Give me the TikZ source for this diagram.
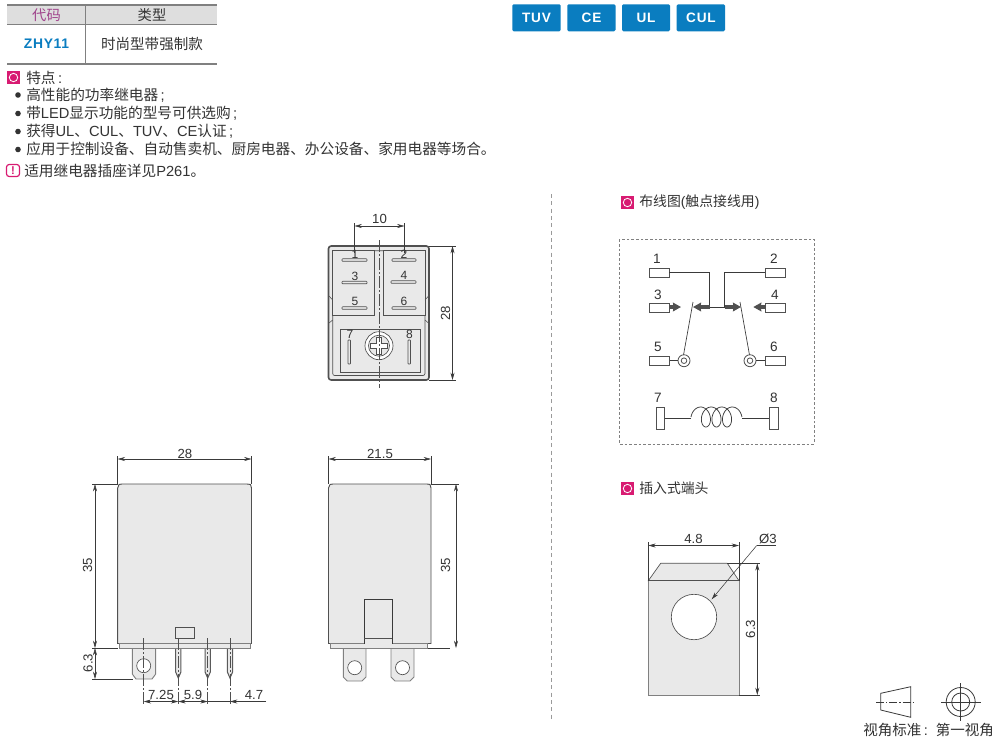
\documentclass[tikz,border=0pt]{standalone}
\usepackage{fontspec}
\setmainfont{Liberation Sans}
\newfontfamily\cjk{Noto Sans CJK SC}
\usetikzlibrary{arrows.meta}
\definecolor{pinkc}{HTML}{D81B72}
\definecolor{bluec}{HTML}{0A7DC0}
\definecolor{bodyc}{HTML}{E9E9E9}
\definecolor{linec}{HTML}{3A3A3A}
\definecolor{txtc}{HTML}{333333}
\definecolor{rulec}{HTML}{808080}
\definecolor{headc}{HTML}{DEDEDE}
\definecolor{darkc}{HTML}{505050}
\definecolor{purpc}{HTML}{A0458C}
\tikzset{
  x=0.75pt,y=-0.75pt,
  txt/.style={inner sep=0pt,anchor=west,text=txtc,font=\fontsize{11}{12}\selectfont},
  dimt/.style={inner sep=0pt,text=txtc,font=\fontsize{9.9}{11}\selectfont},
  lab/.style={inner sep=0pt,text=txtc,font=\fontsize{9}{10}\selectfont},
  wlab/.style={inner sep=0pt,text=txtc,font=\fontsize{10.2}{11}\selectfont},
  dim/.style={line width=0.4pt,draw=linec},
  arr/.style={dim,{Stealth[length=5.5pt,width=3pt]}-{Stealth[length=5.5pt,width=3pt]}},
  tip/.style={dim,-{Stealth[length=5.5pt,width=3pt]}},
  ext/.style={line width=0.35pt,draw=linec},
  center/.style={line width=0.4pt,draw=darkc,dash pattern=on 9pt off 1.5pt on 1.5pt off 1.5pt},
  badge/.style={fill=bluec,rounded corners=1pt,draw=none},
  btxt/.style={inner sep=0pt,text=white,font=\addfontfeatures{LetterSpace=6}\fontsize{10.2}{12}\bfseries\selectfont},
  blade/.style={fill=bodyc,draw=rulec,line width=0.7pt},
  slot/.style={fill=bodyc,draw=darkc,line width=0.5pt,rounded corners=0.5pt},
  term/.style={fill=white,draw=darkc,line width=0.7pt},
  bull/.style={circle,fill=txtc,inner sep=0pt,minimum size=4.2pt},
}
\begin{document}
\begin{tikzpicture}
\useasboundingbox (0,0) rectangle (1000,744);
\fill[white] (0,0) rectangle (1000,744);

% table
\fill[headc] (7,5) rectangle (217,24);
\draw[rulec,line width=1pt] (7,5) -- (217,5);
\draw[rulec,line width=1pt] (7,24.5) -- (217,24.5);
\draw[rulec,line width=1pt] (7,64) -- (217,64);
\draw[rulec,line width=0.8pt] (85.6,4) -- (85.6,64);
\node[inner sep=0pt,text=purpc,font=\fontsize{10.7}{12}\selectfont] (h1) at (46.5,15) {\cjk 代码};
\node[inner sep=0pt,text=txtc,font=\fontsize{10.7}{12}\selectfont] (h2) at (152,15) {\cjk 类型};
\node[inner sep=0pt,text=bluec,font=\addfontfeatures{LetterSpace=5}\fontsize{10.4}{12}\bfseries\selectfont] (c1) at (46.5,44) {ZHY11};
\node[inner sep=0pt,text=txtc,font=\fontsize{10.9}{12}\selectfont] (c2) at (152,44.5) {\cjk 时尚型带强制款};

% feature list
\fill[pinkc] (7,71) rectangle (20,84);
\draw[white,line width=0.6pt] (13.5,77.5) circle (4.2);
\node[txt] (f0) at (26,77.5) {{\cjk 特点}\,:};
\node[bull] (b1) at (18,95) {};
\node[bull] (b2) at (18,113.5) {};
\node[bull] (b3) at (18,131.5) {};
\node[bull] (b4) at (18,149.5) {};
\node[txt] (f1) at (26,95) {{\cjk 高性能的功率继电器}\,;};
\node[txt] (f2) at (26,113) {{\cjk 带}LED{\cjk 显示功能的型号可供选购}\,;};
\node[txt] (f3) at (26,131) {{\cjk 获得}UL{\cjk 、}CUL{\cjk 、}TUV{\cjk 、}CE{\cjk 认证}\,;};
\node[txt] (f4) at (26,149) {\cjk 应用于控制设备、自动售卖机、厨房电器、办公设备、家用电器等场合。};
\draw[pinkc,line width=0.9pt,rounded corners=2pt] (6.5,164.5) rectangle (19.5,176.5);
\node[inner sep=0pt,text=pinkc,font=\fontsize{8.5}{10}\bfseries\selectfont] (ex) at (13,170.5) {!};
\node[txt] (f5) at (24,171) {{\cjk 适用继电器插座详见}P261{\cjk 。}};

% badges
\fill[badge] (512.3,4.3) rectangle (560.7,31.3);
\fill[badge] (567.3,4.3) rectangle (615.5,31.3);
\fill[badge] (622,4.3) rectangle (670,31.3);
\fill[badge] (676.7,4.3) rectangle (725,31.3);
\node[btxt] (tuv) at (536.5,18) {TUV};
\node[btxt] (ce) at (591.5,18) {CE};
\node[btxt] (ul) at (646,18) {UL};
\node[btxt] (cul) at (701,18) {CUL};

% divider
\draw[rulec!80,line width=0.5pt,dash pattern=on 3pt off 2.5pt] (551,194) -- (551,720);

% TOP VIEW
\draw[fill=bodyc,draw=darkc,line width=1.2pt,rounded corners=2pt] (328.5,246) rectangle (429,380);
\draw[fill=bodyc,draw=darkc,line width=0.5pt,rounded corners=1.5pt] (332.7,250.7) rectangle (425,375.5);
\draw[fill=bodyc,draw=darkc,line width=0.5pt] (332.7,250.7) rectangle (374,315);
\draw[fill=bodyc,draw=darkc,line width=0.5pt] (383,250.7) rectangle (425,315);
\draw[darkc,line width=0.4pt] (329,296) -- (332.7,300);
\draw[darkc,line width=0.4pt] (329,323) -- (332.7,320);
\draw[darkc,line width=0.4pt] (428.5,296) -- (425,300);
\draw[darkc,line width=0.4pt] (428.5,323) -- (425,320);
\draw[fill=bodyc,draw=darkc,line width=0.5pt] (340.7,329) rectangle (420,372);
\foreach \xa/\xb/\yy in {342/367/260,392/416/260,342/367/282.5,391/416/282,342/367/308,392/416/308}
  \draw[slot] (\xa,\yy-1.2) rectangle (\xb,\yy+1.2);
\draw[slot] (348,340) rectangle (350.5,364);
\draw[slot] (408,340) rectangle (410.5,364);
\fill[white] (379,345.7) circle (14);
\draw[darkc,line width=0.5pt] (379,345.7) circle (14);
\draw[darkc,line width=0.5pt,fill=bodyc] (379,345.7) circle (10.5);
\draw[darkc,line width=0.6pt,fill=white] (376.5,337.5) -- (381.5,337.5) -- (381.5,343.2) -- (387.2,343.2) -- (387.2,348.2) -- (381.5,348.2) -- (381.5,354) -- (376.5,354) -- (376.5,348.2) -- (370.8,348.2) -- (370.8,343.2) -- (376.5,343.2) -- cycle;
\draw[center] (379,240) -- (379,388);
\foreach \n/\xx/\yy in {1/355/254,2/404/254,3/355/276,4/404/275,5/355/301,6/404/301,7/350/334,8/409.5/334}
  \node[lab] (tv\n) at (\xx,\yy) {\n};
% dims top view
\draw[ext] (354.5,223) -- (354.5,253);
\draw[ext] (404.5,223) -- (404.5,253);
\draw[arr] (354.5,226) -- (404.5,226);
\node[dimt] (d10) at (379.5,219) {10};
\draw[ext] (429,246) -- (456,246);
\draw[ext] (429,380) -- (456,380);
\draw[arr] (452.5,246) -- (452.5,380);
\node[dimt,rotate=90] (d28a) at (445.5,313) {28};

% FRONT VIEW
\draw[blade] (132.3,648) -- (132.3,674) -- (136,679) -- (152,679) -- (155.7,674) -- (155.7,648) -- cycle;
\draw[darkc,line width=0.5pt,fill=white] (143.7,665.7) circle (7);
\foreach \xx in {178.3,207.7,230}
  \draw[fill=bodyc,draw=rulec!70!black,line width=0.8pt] (\xx-2.6,648) -- (\xx-2.6,672) -- (\xx,678) -- (\xx+2.6,672) -- (\xx+2.6,648) -- cycle;
\draw[fill=bodyc,draw=darkc,line width=0.7pt] (117.7,643.5) -- (117.7,488) -- (119,484.5) -- (122,484) -- (247,484) -- (250.5,484.5) -- (251.5,488) -- (251.5,643.5) -- cycle;
\draw[fill=bodyc,draw=rulec,line width=0.7pt] (119.3,643.5) rectangle (250,648);
\draw[fill=bodyc,draw=darkc,line width=0.6pt] (175.7,627.7) rectangle (194,638);
\draw[center] (143.7,638) -- (143.7,705);
\draw[center] (178.3,638) -- (178.3,705);
\draw[center] (207.7,638) -- (207.7,705);
\draw[center] (230,638) -- (230,705);
% front dims
\draw[ext] (117.7,456) -- (117.7,484);
\draw[ext] (251.5,456) -- (251.5,484);
\draw[arr] (117.7,459) -- (251.5,459);
\node[dimt] (d28b) at (185,453.5) {28};
\draw[ext] (92,484) -- (117.7,484);
\draw[ext] (92,648) -- (118,648);
\draw[ext] (92,679) -- (133,679);
\draw[arr] (95,484) -- (95,648);
\draw[arr] (95,648) -- (95,679);
\node[dimt,rotate=90] (d35a) at (87.5,565) {35};
\node[dimt,rotate=90] (d63a) at (88,663) {6.3};
\draw[arr] (143.7,701.5) -- (178.3,701.5);
\draw[arr] (178.3,701.5) -- (207.7,701.5);
\draw[dim] (207.7,701.5) -- (230,701.5);
\draw[tip] (266,701.5) -- (230,701.5);
\node[dimt] (d725) at (161,694.5) {7.25};
\node[dimt] (d59) at (193,694.5) {5.9};
\node[dimt] (d47) at (254,694.5) {4.7};

% SIDE VIEW
\foreach \xa/\xb in {343.3/366,391/414}
  \draw[blade] (\xa,648) -- (\xa,677) -- (\xa+4,681) -- (\xb-4,681) -- (\xb,677) -- (\xb,648) -- cycle;
\draw[darkc,line width=0.5pt,fill=white] (354.7,667.7) circle (7);
\draw[darkc,line width=0.5pt,fill=white] (402.5,667.7) circle (7);
\draw[fill=bodyc,draw=darkc,line width=0.7pt] (328.5,643.5) -- (328.5,488) -- (330,484.5) -- (333,484) -- (427,484) -- (430,484.5) -- (431,488) -- (431,643.5) -- cycle;
\draw[fill=bodyc,draw=rulec,line width=0.7pt] (330.7,643.5) rectangle (427.5,648);
\draw[fill=bodyc,draw=linec,line width=0.8pt] (364.3,643.5) -- (364.3,599.3) -- (392.3,599.3) -- (392.3,643.5);
\draw[darkc,line width=0.5pt] (364.3,638.3) -- (392.3,638.3);
\draw[ext] (328.5,456) -- (328.5,484);
\draw[ext] (431,456) -- (431,484);
\draw[arr] (328.5,459) -- (431,459);
\node[dimt] (d215) at (380,453.5) {21.5};
\draw[ext] (431,484) -- (459,484);
\draw[ext] (427.5,648) -- (450,648);
\draw[arr] (456,484) -- (456,648);
\node[dimt,rotate=90] (d35b) at (445.5,565) {35};

% WIRING
\fill[pinkc] (621,196) rectangle (634,209);
\draw[white,line width=0.6pt] (627.5,202.5) circle (4.2);
\node[txt,font=\fontsize{10.4}{12}\selectfont] (w0) at (639,202) {{\cjk 布线图}({\cjk 触点接线用})};
\draw[rulec,line width=0.6pt,dash pattern=on 2pt off 1.5pt] (619.3,239.3) rectangle (814,444);
\foreach \n/\xa/\ya in {ta1/649/268.7,ta2/765/268.7,ta3/649/303,ta4/765/303,ta5/649.5/356,ta6/765/356}
  \draw[term] (\xa,\ya) rectangle (\xa+20,\ya+9);
\draw[term] (656,407.7) rectangle (664.5,429.3);
\draw[term] (769.3,407.7) rectangle (778,429.3);
\foreach \n/\xx/\yy in {1/657/259,2/774/259,3/658/295,4/775/295,5/658/347,6/774/347,7/658/398,8/774/398}
  \node[wlab] (wl\n) at (\xx,\yy) {\n};
\draw[linec,line width=0.6pt] (669,272.8) -- (709.7,272.8) -- (709.7,307);
\draw[linec,line width=0.6pt] (765,272.8) -- (724.5,272.8) -- (724.5,307);
\draw[linec,line width=0.6pt] (709.7,307) -- (724.5,307);
\foreach \xa/\xb in {709.7/693,724.5/741,669/681,765/753.3}
  \draw[darkc,line width=2.4pt,-{Stealth[length=6pt,width=6.5pt,inset=0.5pt]}] (\xa,307) -- (\xb,307);
\draw[linec,line width=0.5pt] (693,302) -- (683.5,355);
\draw[linec,line width=0.5pt] (740,302) -- (749.5,355);
\draw[darkc,line width=0.6pt] (684,360.7) circle (6);
\draw[darkc,line width=0.6pt] (684,360.7) circle (2.8);
\draw[darkc,line width=0.6pt] (750,360.7) circle (6);
\draw[darkc,line width=0.6pt] (750,360.7) circle (2.8);
\draw[linec,line width=0.5pt] (669.5,360.7) -- (678,360.7);
\draw[linec,line width=0.5pt] (756,360.7) -- (765,360.7);
\draw[linec,line width=0.6pt] (664.5,418.3) -- (691,418.3);
\draw[linec,line width=0.6pt] (742,418.3) -- (769.3,418.3);
\draw[linec,line width=0.55pt] plot[smooth,samples=120,domain=90:1350,variable=\t] ({695.36+1.68*rad(\t)-7*sin(\t)},{417+10*cos(\t)});

% TERMINAL
\fill[pinkc] (621,482) rectangle (634,495);
\draw[white,line width=0.6pt] (627.5,488.5) circle (4.2);
\node[txt,font=\fontsize{10.4}{12}\selectfont] (t0) at (639,488) {\cjk 插入式端头};
\draw[fill=bodyc,draw=darkc,line width=0.5pt] (648.3,580.7) -- (660.7,563.3) -- (727.3,563.3) -- (739,580.7) -- cycle;
\draw[fill=bodyc,draw=rulec,line width=0.7pt] (648.3,580.7) rectangle (739,695);
\draw[darkc,line width=0.8pt] (648.3,580.7) -- (739,580.7);
\draw[darkc,line width=0.5pt,fill=white] (694,617) circle (22.7);
\draw[ext] (648.3,542) -- (648.3,581);
\draw[ext] (739,542) -- (739,581);
\draw[arr] (648.3,545.5) -- (739,545.5);
\node[dimt] (d48) at (693.5,538.5) {4.8};
\node[dimt] (dphi) at (768,539) {Ø3};
\draw[dim] (776,545.5) -- (756.7,545.5);
\draw[tip] (756.7,545.5) -- (711.7,599.3);
\draw[ext] (727.3,563.3) -- (760,563.3);
\draw[ext] (739,695) -- (760,695);
\draw[arr] (757.3,563.3) -- (757.3,695);
\node[dimt,rotate=90] (d63b) at (750.5,629) {6.3};

% view icon
\draw[linec,line width=0.6pt] (880.7,693.3) -- (910.7,686.7) -- (910.7,717.3) -- (880.7,710) -- cycle;
\draw[linec,line width=0.4pt,dash pattern=on 6pt off 1.5pt on 1pt off 1.5pt] (876,702) -- (915,702);
\draw[linec,line width=0.6pt] (960.7,702) circle (14.5);
\draw[linec,line width=0.6pt] (960.7,702) circle (9);
\draw[linec,line width=0.4pt] (941,702) -- (980.7,702);
\draw[linec,line width=0.4pt] (960.7,683) -- (960.7,721);
\node[inner sep=0pt,anchor=west,text=txtc,font=\fontsize{10.9}{12}\selectfont] (view) at (863,729.5) {{\cjk 视角标准}\,:\hspace{6pt}{\cjk 第一视角}};
\end{tikzpicture}
\end{document}
